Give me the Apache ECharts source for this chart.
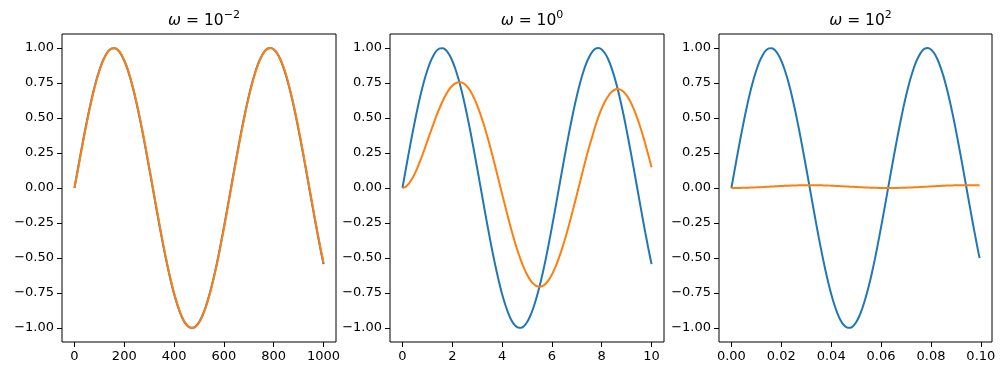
<!DOCTYPE html>
<html>
<head>
<meta charset="utf-8">
<script src="https://cdn.jsdelivr.net/npm/echarts@6/dist/echarts.min.js"></script>
<style>
    html, body { margin: 0; padding: 0; background: #fff; }
    #chart { width: 1006px; height: 376px; }
</style>
</head>
<body>
<div id="chart"></div>
<script>
// time samples of each panel
const t1 = [0, 12.5, 25, 37.5, 50, 62.5, 75, 87.5, 100, 112.5, 125, 137.5, 150, 162.5, 175, 187.5, 200, 212.5, 225,
    237.5, 250, 262.5, 275, 287.5, 300, 312.5, 325, 337.5, 350, 362.5, 375, 387.5, 400, 412.5, 425, 437.5, 450, 462.5,
    475, 487.5, 500, 512.5, 525, 537.5, 550, 562.5, 575, 587.5, 600, 612.5, 625, 637.5, 650, 662.5, 675, 687.5, 700,
    712.5, 725, 737.5, 750, 762.5, 775, 787.5, 800, 812.5, 825, 837.5, 850, 862.5, 875, 887.5, 900, 912.5, 925, 937.5,
    950, 962.5, 975, 987.5, 1000];
const t2 = [0, 0.125, 0.25, 0.375, 0.5, 0.625, 0.75, 0.875, 1, 1.125, 1.25, 1.375, 1.5, 1.625, 1.75, 1.875, 2, 2.125,
    2.25, 2.375, 2.5, 2.625, 2.75, 2.875, 3, 3.125, 3.25, 3.375, 3.5, 3.625, 3.75, 3.875, 4, 4.125, 4.25, 4.375, 4.5,
    4.625, 4.75, 4.875, 5, 5.125, 5.25, 5.375, 5.5, 5.625, 5.75, 5.875, 6, 6.125, 6.25, 6.375, 6.5, 6.625, 6.75, 6.875,
    7, 7.125, 7.25, 7.375, 7.5, 7.625, 7.75, 7.875, 8, 8.125, 8.25, 8.375, 8.5, 8.625, 8.75, 8.875, 9, 9.125, 9.25,
    9.375, 9.5, 9.625, 9.75, 9.875, 10];
const t3 = [0, 0.00125, 0.0025, 0.00375, 0.005, 0.00625, 0.0075, 0.00875, 0.01, 0.01125, 0.0125, 0.01375, 0.015,
    0.01625, 0.0175, 0.01875, 0.02, 0.02125, 0.0225, 0.02375, 0.025, 0.02625, 0.0275, 0.02875, 0.03, 0.03125, 0.0325,
    0.03375, 0.035, 0.03625, 0.0375, 0.03875, 0.04, 0.04125, 0.0425, 0.04375, 0.045, 0.04625, 0.0475, 0.04875, 0.05,
    0.05125, 0.0525, 0.05375, 0.055, 0.05625, 0.0575, 0.05875, 0.06, 0.06125, 0.0625, 0.06375, 0.065, 0.06625, 0.0675,
    0.06875, 0.07, 0.07125, 0.0725, 0.07375, 0.075, 0.07625, 0.0775, 0.07875, 0.08, 0.08125, 0.0825, 0.08375, 0.085,
    0.08625, 0.0875, 0.08875, 0.09, 0.09125, 0.0925, 0.09375, 0.095, 0.09625, 0.0975, 0.09875, 0.0995];

// input (blue)
const input1 = [0, 0.125, 0.247, 0.366, 0.479, 0.585, 0.682, 0.768, 0.841, 0.902, 0.949, 0.981, 0.997, 0.999, 0.984,
    0.954, 0.909, 0.850, 0.778, 0.694, 0.598, 0.494, 0.382, 0.263, 0.141, 0.017, -0.108, -0.231, -0.351, -0.465,
    -0.572, -0.669, -0.757, -0.832, -0.895, -0.944, -0.978, -0.996, -0.999, -0.987, -0.959, -0.916, -0.859, -0.788,
    -0.706, -0.612, -0.510, -0.397, -0.279, -0.158, -0.033, 0.092, 0.215, 0.335, 0.450, 0.558, 0.657, 0.746, 0.823,
    0.888, 0.938, 0.974, 0.995, 1.000, 0.989, 0.964, 0.923, 0.867, 0.799, 0.717, 0.625, 0.523, 0.412, 0.295, 0.174,
    0.050, -0.075, -0.199, -0.319, -0.435, -0.544];
// same wave read on the 0..10 axis
const input2 = input1;
const input3 = [0, 0.125, 0.247, 0.366, 0.479, 0.585, 0.682, 0.768, 0.841, 0.902, 0.949, 0.981, 0.997, 0.999, 0.984,
    0.954, 0.909, 0.850, 0.778, 0.694, 0.598, 0.494, 0.382, 0.263, 0.141, 0.017, -0.108, -0.231, -0.351, -0.465,
    -0.572, -0.669, -0.757, -0.832, -0.895, -0.944, -0.978, -0.996, -0.999, -0.987, -0.959, -0.916, -0.859, -0.788,
    -0.706, -0.612, -0.510, -0.397, -0.279, -0.158, -0.033, 0.092, 0.215, 0.335, 0.450, 0.558, 0.657, 0.746, 0.823,
    0.888, 0.938, 0.974, 0.995, 1.000, 0.989, 0.964, 0.923, 0.867, 0.799, 0.717, 0.625, 0.523, 0.412, 0.295, 0.174,
    0.050, -0.075, -0.199, -0.319, -0.435, -0.501];

// output (orange)
const output1 = [0, 0.115, 0.237, 0.357, 0.470, 0.577, 0.675, 0.762, 0.836, 0.898, 0.946, 0.979, 0.996, 0.999, 0.986,
    0.957, 0.913, 0.856, 0.784, 0.701, 0.606, 0.503, 0.391, 0.273, 0.151, 0.027, -0.098, -0.221, -0.342, -0.456,
    -0.564, -0.662, -0.750, -0.826, -0.891, -0.941, -0.976, -0.995, -0.999, -0.989, -0.962, -0.920, -0.864, -0.794,
    -0.713, -0.620, -0.519, -0.406, -0.289, -0.168, -0.043, 0.082, 0.205, 0.326, 0.441, 0.550, 0.649, 0.739, 0.817,
    0.883, 0.935, 0.972, 0.994, 1.000, 0.990, 0.967, 0.927, 0.872, 0.805, 0.724, 0.633, 0.532, 0.421, 0.305, 0.184,
    0.060, -0.065, -0.189, -0.310, -0.426, -0.536];
const output2 = [0, 0.008, 0.029, 0.062, 0.104, 0.155, 0.211, 0.272, 0.335, 0.398, 0.460, 0.520, 0.575, 0.625, 0.668,
    0.704, 0.730, 0.748, 0.756, 0.754, 0.741, 0.718, 0.685, 0.642, 0.591, 0.530, 0.462, 0.388, 0.308, 0.224, 0.136,
    0.047, -0.042, -0.131, -0.217, -0.300, -0.378, -0.450, -0.514, -0.571, -0.618, -0.656, -0.683, -0.700, -0.705,
    -0.700, -0.684, -0.656, -0.619, -0.571, -0.515, -0.451, -0.380, -0.303, -0.221, -0.136, -0.048, 0.040, 0.128,
    0.214, 0.296, 0.370, 0.446, 0.511, 0.568, 0.616, 0.654, 0.683, 0.700, 0.707, 0.703, 0.688, 0.662, 0.625, 0.580,
    0.524, 0.461, 0.391, 0.314, 0.233, 0.148];
const output3 = [0, 0.0001, 0.0003, 0.0007, 0.0012, 0.0019, 0.0027, 0.0036, 0.0046, 0.0057, 0.0068, 0.0081, 0.0093,
    0.0105, 0.0118, 0.0130, 0.0142, 0.0153, 0.0163, 0.0172, 0.0180, 0.0187, 0.0192, 0.0196, 0.0199, 0.0200, 0.0199,
    0.0197, 0.0194, 0.0189, 0.0182, 0.0174, 0.0165, 0.0155, 0.0145, 0.0133, 0.0121, 0.0109, 0.0096, 0.0084, 0.0072,
    0.0060, 0.0049, 0.0038, 0.0029, 0.0021, 0.0014, 0.0008, 0.0004, 0.0001, 0.0000, 0.0000, 0.0002, 0.0006, 0.0011,
    0.0017, 0.0025, 0.0033, 0.0043, 0.0054, 0.0065, 0.0077, 0.0090, 0.0102, 0.0115, 0.0127, 0.0139, 0.0150, 0.0160,
    0.0170, 0.0178, 0.0185, 0.0191, 0.0196, 0.0198, 0.0200, 0.0200, 0.0198, 0.0195, 0.0190, 0.0187];

// ticks and titles
const yTicks = [-1, -0.75, -0.5, -0.25, 0, 0.25, 0.5, 0.75, 1];
const xTicks1 = [0, 200, 400, 600, 800, 1000];
const xTicks2 = [0, 2, 4, 6, 8, 10];
const xTicks3 = [0, 0.02, 0.04, 0.06, 0.08, 0.1];
const exponents = ['\u22122', '0', '2'];

const FONT = 'DejaVu Sans';
const BLUE = '#1f77b4';
const ORANGE = '#ff7f0e';

const panels = [
    {left: 62, width: 274, t: t1, input: input1, output: output1, ticks: xTicks1, xmin: -50, xmax: 1050, dec: 0},
    {left: 390, width: 274, t: t2, input: input2, output: output2, ticks: xTicks2, xmin: -0.5, xmax: 10.5, dec: 0},
    {left: 719, width: 273, t: t3, input: input3, output: output3, ticks: xTicks3, xmin: -0.004975, xmax: 0.104475, dec: 2}
];

function minus(s) {
    return s.replace('-', '\u2212');
}

function zip(xs, ys) {
    return xs.map((x, i) => [x, ys[i]]);
}

let grids = [], xAxes = [], yAxes = [], series = [], titles = [];

panels.forEach(function (p, i) {
    grids.push({
        left: p.left, top: 34, width: p.width, height: 308,
        show: true, borderColor: '#000', borderWidth: 1, backgroundColor: 'transparent'
    });
    titles.push({
        text: '{i|ω} = 10{s|' + exponents[i] + '}',
        left: p.left + p.width / 2,
        textAlign: 'center',
        top: 5,
        textStyle: {
            fontFamily: FONT, fontSize: 15.5, fontWeight: 'normal', color: '#000',
            rich: {
                i: {fontFamily: FONT, fontSize: 15.5, fontStyle: 'italic', color: '#000'},
                s: {fontFamily: FONT, fontSize: 11, color: '#000', verticalAlign: 'bottom', padding: [0, 0, 10, 0]}
            }
        }
    });
    xAxes.push({
        type: 'value', gridIndex: i, min: p.xmin, max: p.xmax,
        axisLine: {show: false, onZero: false},
        splitLine: {show: false},
        axisTick: {show: true, length: 5, customValues: p.ticks, lineStyle: {color: '#000', width: 1}},
        axisLabel: {
            customValues: p.ticks, margin: 8, color: '#000', fontFamily: FONT, fontSize: 13,
            formatter: v => minus(v.toFixed(p.dec))
        }
    });
    yAxes.push({
        type: 'value', gridIndex: i, min: -1.1, max: 1.1,
        axisLine: {show: false, onZero: false},
        splitLine: {show: false},
        axisTick: {show: true, length: 5, customValues: yTicks, lineStyle: {color: '#000', width: 1}},
        axisLabel: {
            customValues: yTicks, margin: 8, color: '#000', fontFamily: FONT, fontSize: 13,
            formatter: v => minus(v.toFixed(2))
        }
    });
    series.push({
        type: 'line', xAxisIndex: i, yAxisIndex: i, data: zip(p.t, p.input),
        smooth: 0.3, showSymbol: false, lineStyle: {color: BLUE, width: 2}
    });
    series.push({
        type: 'line', xAxisIndex: i, yAxisIndex: i, data: zip(p.t, p.output),
        smooth: 0.3, showSymbol: false, lineStyle: {color: ORANGE, width: 2}
    });
});

let myChart = echarts.init(document.getElementById('chart'));
myChart.setOption({
    animation: false,
    backgroundColor: '#fff',
    title: titles,
    grid: grids,
    xAxis: xAxes,
    yAxis: yAxes,
    series: series
});
</script>
</body>
</html>
